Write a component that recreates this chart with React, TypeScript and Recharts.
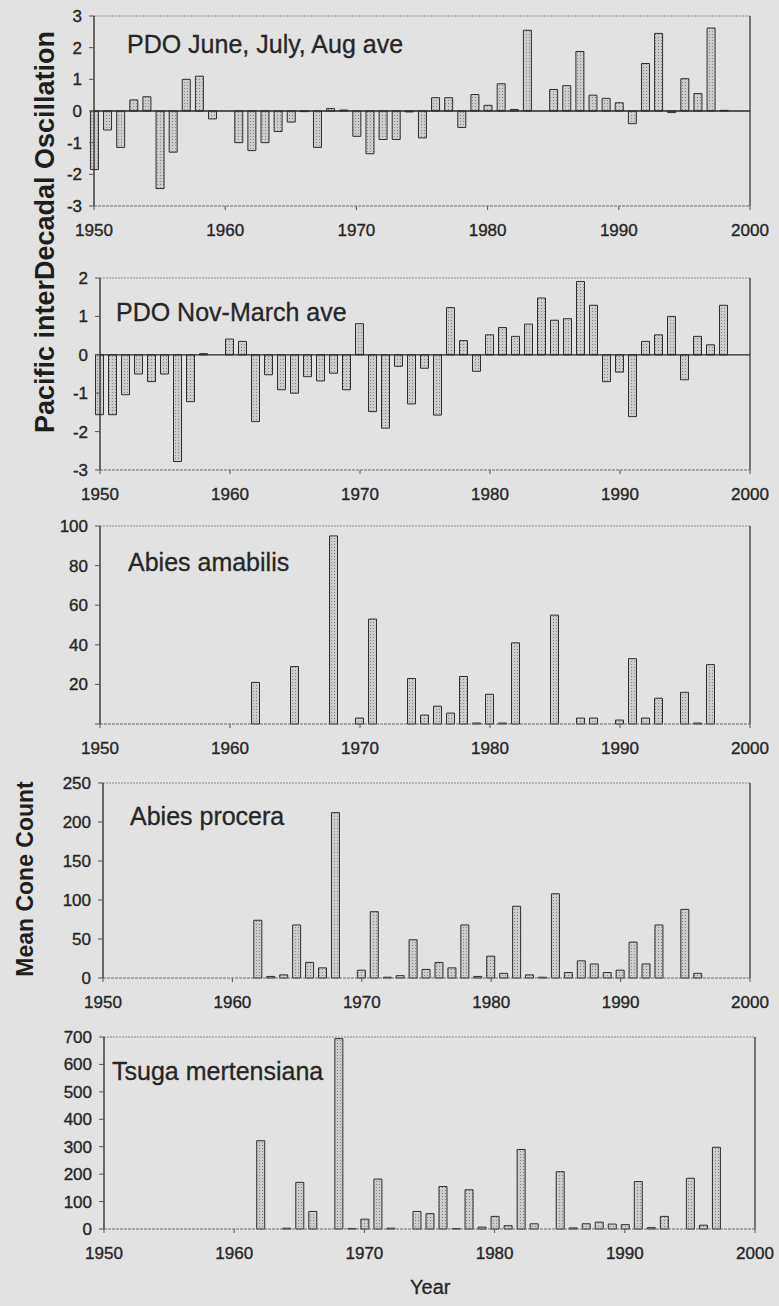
import { Bar, BarChart, ReferenceLine, XAxis, YAxis } from 'recharts';

const YEARS = [
  1950, 1951, 1952, 1953, 1954, 1955, 1956, 1957, 1958, 1959,
  1960, 1961, 1962, 1963, 1964, 1965, 1966, 1967, 1968, 1969,
  1970, 1971, 1972, 1973, 1974, 1975, 1976, 1977, 1978, 1979,
  1980, 1981, 1982, 1983, 1984, 1985, 1986, 1987, 1988, 1989,
  1990, 1991, 1992, 1993, 1994, 1995, 1996, 1997, 1998,
];

const DECADES = [1950, 1960, 1970, 1980, 1990, 2000];

// PDO index, June-July-August average
const PDO_SUMMER = [
  -1.85, -0.6, -1.15, 0.35, 0.45, -2.45, -1.3, 1.0, 1.1, -0.25,
  0, -1.0, -1.25, -1.0, -0.65, -0.35, -0.02, -1.15, 0.08, 0.03,
  -0.8, -1.35, -0.9, -0.9, -0.03, -0.85, 0.42, 0.42, -0.52, 0.52,
  0.18, 0.86, 0.05, 2.55, 0, 0.68, 0.8, 1.88, 0.5, 0.4,
  0.26, -0.4, 1.5, 2.45, -0.05, 1.02, 0.55, 2.62, 0.02,
];

// PDO index, November-March average
const PDO_WINTER = [
  -1.56, -1.56, -1.04, -0.5, -0.7, -0.5, -2.78, -1.22, 0.03, 0,
  0.41, 0.35, -1.74, -0.52, -0.91, -1.0, -0.57, -0.68, -0.48, -0.91,
  0.81, -1.48, -1.91, -0.3, -1.28, -0.35, -1.57, 1.23, 0.37, -0.43,
  0.52, 0.71, 0.48, 0.8, 1.48, 0.9, 0.94, 1.91, 1.29, -0.7,
  -0.45, -1.61, 0.35, 0.52, 1.0, -0.65, 0.48, 0.26, 1.29,
];

// mean cone counts, null = no bar
const ABIES_AMABILIS = [
  null, null, null, null, null, null, null, null, null, null,
  null, null, 21, null, null, 29, null, null, 95, null,
  3, 53, null, null, 23, 4.5, 9, 5.5, 24, 0.5,
  15, 0.5, 41, null, null, 55, null, 3, 3, null,
  2, 33, 3, 13, null, 16, 0.5, 30, null,
];

const ABIES_PROCERA = [
  null, null, null, null, null, null, null, null, null, null,
  null, null, 74, 2, 4, 68, 20, 13, 212, null,
  10, 85, 1, 3, 49, 11, 20, 13, 68, 2,
  28, 6, 92, 4, 1, 108, 7, 22, 18, 7,
  10, 46, 18, 68, null, 88, 6, null, null,
];

const TSUGA_MERTENSIANA = [
  null, null, null, null, null, null, null, null, null, null,
  null, null, 322, null, 3, 170, 64, null, 694, 2,
  36, 182, 3, null, 64, 56, 155, 2, 143, 7,
  46, 12, 290, 19, null, 209, 4, 19, 25, 18,
  16, 173, 5, 46, null, 185, 14, 298, null,
];

const FONT = '"Liberation Sans", Arial, sans-serif';
const PAGE_W = 779;
const PAGE_H = 1306;
const PAD = 10;
const XAXIS_H = 40;
const YAXIS_W = 60;
const INK = '#262626';

interface PanelProps {
  id: string;
  values: (number | null)[];
  y_domain: [number, number];
  y_ticks: number[];
  plot_top: number;
  plot_bottom: number;
  plot_left: number;
  plot_right: number;
  title: string;
  title_left: number;
  title_top: number;
  zero_line?: boolean;
  hide_zero_label?: boolean;
}

function Panel(p: PanelProps) {
  const data = YEARS.map((year, i) => ({ year, value: p.values[i] }));
  const height = p.plot_bottom - p.plot_top + PAD + XAXIS_H;
  // scanned print looks a bit heavier than plain regular weight
  const tick_style = { fontSize: 17, fill: INK, stroke: INK, strokeWidth: 0.35, fontFamily: FONT };
  const pattern_id = `stipple-${p.id}`;

  return (
    <>
      <div style={{ position: 'absolute', left: 0, top: p.plot_top - PAD }}>
        <BarChart
          width={PAGE_W}
          height={height}
          data={data}
          margin={{ top: PAD, right: PAGE_W - p.plot_right, bottom: 0, left: p.plot_left - YAXIS_W }}
        >
          <defs>
            <pattern id={pattern_id} width="3" height="3" patternUnits="userSpaceOnUse">
              <rect width="3" height="3" fill="#cdcdcd" />
              <rect x="1" y="1" width="1" height="1" fill="#858585" />
            </pattern>
          </defs>
          <XAxis
            dataKey="year"
            type="number"
            domain={[1950, 2000]}
            ticks={DECADES}
            interval={0}
            height={XAXIS_H}
            tick={tick_style}
            tickSize={4}
            tickMargin={14}
            tickLine={{ stroke: '#555' }}
            axisLine={{ stroke: '#6a6a6a', strokeDasharray: '3 1' }}
          />
          <YAxis
            type="number"
            domain={p.y_domain}
            ticks={p.y_ticks}
            interval={0}
            width={YAXIS_W}
            tick={tick_style}
            tickSize={5}
            tickMargin={7}
            tickLine={{ stroke: '#555' }}
            axisLine={{ stroke: INK, strokeWidth: 1.3 }}
            tickFormatter={(v: number) => (p.hide_zero_label && v === 0 ? '' : String(v))}
          />
          <ReferenceLine y={p.y_domain[1]} stroke="#8a8a8a" strokeDasharray="2 1" />
          <ReferenceLine x={2000} stroke="#3a3a3a" strokeWidth={1.3} />
          {p.zero_line && <ReferenceLine y={0} stroke={INK} strokeWidth={1.3} />}
          <Bar
            dataKey="value"
            barSize={8}
            fill={`url(#${pattern_id})`}
            stroke="#2e2e2e"
            strokeWidth={1}
            isAnimationActive={false}
          />
        </BarChart>
      </div>
      <div
        style={{
          position: 'absolute',
          left: p.title_left,
          top: p.title_top,
          fontFamily: FONT,
          fontSize: 25,
          lineHeight: 1,
          color: INK,
          WebkitTextStroke: '0.3px #262626',
          whiteSpace: 'nowrap',
        }}
      >
        {p.title}
      </div>
    </>
  );
}

function AxisTitle({ text, cx, cy, size }: { text: string; cx: number; cy: number; size: number }) {
  return (
    <div
      style={{
        position: 'absolute',
        left: cx,
        top: cy,
        transform: 'translate(-50%, -50%) rotate(-90deg)',
        fontFamily: FONT,
        fontWeight: 'bold',
        fontSize: size,
        lineHeight: 1,
        color: '#1e1e1e',
        whiteSpace: 'nowrap',
      }}
    >
      {text}
    </div>
  );
}

export default function App() {
  return (
    <div
      style={{
        position: 'absolute',
        left: 0,
        top: 0,
        width: PAGE_W,
        height: PAGE_H,
        background: '#e2e2e2',
        overflow: 'hidden',
      }}
    >
      <Panel
        id="pdo-summer"
        values={PDO_SUMMER}
        y_domain={[-3, 3]}
        y_ticks={[-3, -2, -1, 0, 1, 2, 3]}
        plot_top={16}
        plot_bottom={206}
        plot_left={94}
        plot_right={750}
        title="PDO June, July, Aug ave"
        title_left={127}
        title_top={32}
        zero_line
      />
      <Panel
        id="pdo-winter"
        values={PDO_WINTER}
        y_domain={[-3, 2]}
        y_ticks={[-3, -2, -1, 0, 1, 2]}
        plot_top={278}
        plot_bottom={470}
        plot_left={100}
        plot_right={750}
        title="PDO Nov-March ave"
        title_left={116}
        title_top={300}
        zero_line
      />
      <Panel
        id="abies-amabilis"
        values={ABIES_AMABILIS}
        y_domain={[0, 100]}
        y_ticks={[0, 20, 40, 60, 80, 100]}
        plot_top={526}
        plot_bottom={724}
        plot_left={100}
        plot_right={750}
        title="Abies amabilis"
        title_left={128}
        title_top={550}
        hide_zero_label
      />
      <Panel
        id="abies-procera"
        values={ABIES_PROCERA}
        y_domain={[0, 250]}
        y_ticks={[0, 50, 100, 150, 200, 250]}
        plot_top={783}
        plot_bottom={978}
        plot_left={103}
        plot_right={750}
        title="Abies procera"
        title_left={130}
        title_top={804}
      />
      <Panel
        id="tsuga"
        values={TSUGA_MERTENSIANA}
        y_domain={[0, 700]}
        y_ticks={[0, 100, 200, 300, 400, 500, 600, 700]}
        plot_top={1037}
        plot_bottom={1229}
        plot_left={104}
        plot_right={755}
        title="Tsuga mertensiana"
        title_left={112}
        title_top={1059}
      />
      <AxisTitle text="Pacific interDecadal Oscillation" cx={45} cy={232} size={27} />
      <AxisTitle text="Mean Cone Count" cx={25} cy={879} size={23} />
      <div
        style={{
          position: 'absolute',
          left: 410,
          top: 1277,
          fontFamily: FONT,
          fontSize: 20,
          lineHeight: 1,
          color: INK,
          WebkitTextStroke: '0.3px #262626',
        }}
      >
        Year
      </div>
    </div>
  );
}
